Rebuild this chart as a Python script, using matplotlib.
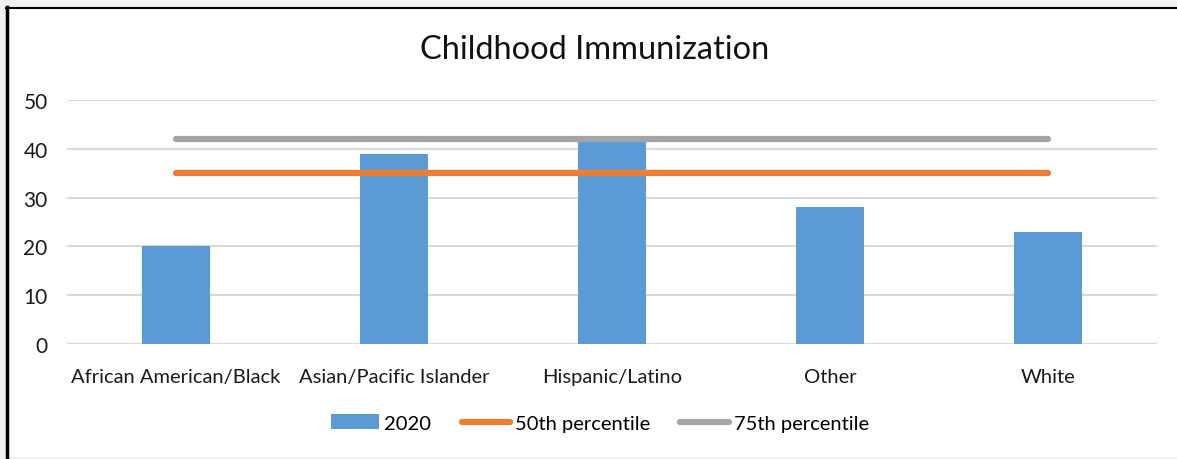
import matplotlib.pyplot as plt
from matplotlib.patches import Rectangle
from matplotlib.lines import Line2D

categories = ['African American/Black', 'Asian/Pacific Islander', 'Hispanic/Latino', 'Other', 'White']
values_2020 = [20, 39, 41.5, 28, 23]
p50 = [35, 35, 35, 35, 35]
p75 = [42, 42, 42, 42, 42]
yticks = [0, 10, 20, 30, 40, 50]

plt.rcParams['font.family'] = ['Lato', 'DejaVu Sans']

fig = plt.figure(figsize=(11.77, 4.60), dpi=100)
fig.patch.set_facecolor('#f0f0f0')

# white chart panel with dark frame on the left and top
panel = Rectangle((6 / 1177, 2 / 460), 1.0, 450 / 460, transform=fig.transFigure,
                  facecolor='white', edgecolor='none', zorder=-10)
fig.patches.append(panel)
fig.add_artist(Line2D([7 / 1177, 7 / 1177], [2 / 460, 452 / 460], transform=fig.transFigure,
                      color='black', lw=2.5, zorder=-5))
fig.add_artist(Line2D([6 / 1177, 1.0], [451.5 / 460, 451.5 / 460], transform=fig.transFigure,
                      color='black', lw=1.5, zorder=-5))

ax = fig.add_axes([67 / 1177, (460 - 345) / 460, (1157 - 67) / 1177, 244 / 460])
ax.set_facecolor('none')

x = range(len(categories))
bars = ax.bar(x, values_2020, width=0.31, color='#5b9bd5', zorder=2, label='2020')
l50, = ax.plot(x, p50, color='#ed7d31', lw=4.5, solid_capstyle='round', zorder=3, label='50th percentile')
l75, = ax.plot(x, p75, color='#a5a5a5', lw=4.5, solid_capstyle='round', zorder=3, label='75th percentile')

ax.set_xlim(-0.5, 4.5)
ax.set_ylim(0, 50)
ax.set_yticks(yticks)
ax.set_xticks(list(x))
ax.set_xticklabels(categories)
ax.grid(axis='y', color='#d9d9d9', lw=1.5, zorder=0)
ax.set_axisbelow(True)
for s in ax.spines.values():
    s.set_visible(False)
ax.tick_params(axis='both', length=0, labelsize=14.5, colors='#1a1a1a')
ax.tick_params(axis='y', pad=14, labelsize=15)
ax.tick_params(axis='x', pad=17)

fig.text(595 / 1177, (460 - 50) / 460, 'Childhood Immunization', ha='center', va='center',
         fontsize=23.5, color='#111111')

fig.legend(handles=[bars, l50, l75], loc='center', bbox_to_anchor=(600 / 1177, (460 - 424) / 460),
           ncol=3, frameon=False, fontsize=14.5, handlelength=2.4, handletextpad=0.25,
           columnspacing=1.5)

fig.savefig('out.png', dpi=100)
